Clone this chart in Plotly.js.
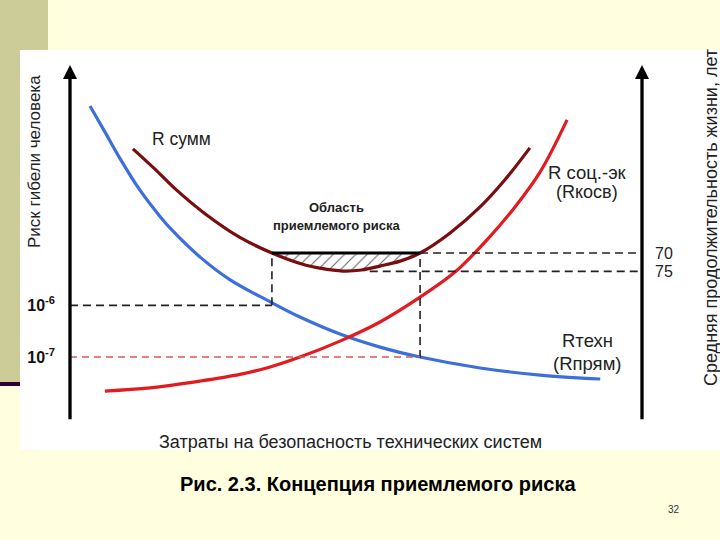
<!DOCTYPE html>
<html>
<head>
<meta charset="utf-8">
<script src="https://cdn.plot.ly/plotly-3.0.1.min.js"></script>
<style>html,body{margin:0;padding:0;background:#FFFFE0;}#chart{width:720px;height:540px;}</style>
</head>
<body>
<div id="chart"></div>
<script>
// ---- data (cost of safety: 0..100, risk / life scale: 0..100, conceptual units) ----
const costTech = [3.5, 6.1, 8.7, 12.2, 15.7, 17.8, 22.7, 28.0, 35.0, 40.2, 47.2, 54.2, 61.2, 71.7, 82.2, 92.7];
const riskTech = [88.4, 81.1, 73.7, 64.7, 57.3, 53.4, 45.8, 39.3, 33.1, 28.8, 24.0, 20.3, 17.5, 14.4, 12.4, 11.3];

const costSoc = [6.1, 14.0, 22.7, 29.7, 35.0, 40.2, 47.2, 54.2, 61.0, 67.3, 72.9, 77.8, 82.2, 86.9];
const riskSoc = [7.9, 8.8, 10.7, 12.6, 14.7, 17.5, 22.0, 27.4, 34.2, 41.5, 50.6, 59.9, 69.8, 84.5];

const costSum = [11.0, 14.9, 18.4, 23.6, 29.7, 35.3, 41.1, 43.7, 47.7, 51.0, 54.2, 57.7, 61.2, 66.4, 71.7, 76.0, 80.4];
const riskSum = [76.3, 70.5, 65.0, 58.0, 51.3, 46.9, 43.5, 42.6, 41.8, 42.1, 43.2, 44.6, 46.9, 52.5, 59.9, 67.5, 76.6];

const acceptCost = [35.3, 61.2];          // bounds of the acceptable-risk region
const riskTicks = [32.1, 17.5];           // 10^-6, 10^-7
const riskTickText = ['<b>10<sup>-6</sup></b>', '<b>10<sup>-7</sup></b>'];
const lifeTicks = [46.9, 41.7];           // 70, 75 years
const lifeTickText = ['70', '75'];
const life75Start = 52.4;

// ---- helpers for decoration placement (pixels -> paper) ----
const L = 70, R = 642, T = 65, B = 419;
const PX = p => (p - L) / (R - L);
const PY = p => (B - p) / (B - T);
const FONT = 'Liberation Sans, Arial, sans-serif';

// hatch polygon: flat top + R сумм curve beneath it
const hx = [acceptCost[0], acceptCost[1]];
const hy = [lifeTicks[0], lifeTicks[0]];
for (let i = costSum.length - 1; i >= 0; i--) {
  if (costSum[i] >= acceptCost[0] && costSum[i] <= acceptCost[1]) { hx.push(costSum[i]); hy.push(riskSum[i]); }
}

const dashBlack = {color: '#222', width: 1.6, dash: '8px,5px'};

const traces = [
  {x: hx, y: hy, mode: 'lines', fill: 'toself', line: {width: 0, color: 'rgba(0,0,0,0)'},
   fillcolor: 'rgba(255,255,255,0)',
   fillpattern: {shape: '/', fgcolor: '#666', bgcolor: 'rgba(255,255,255,0)', size: 8, solidity: 0.14},
   hoverinfo: 'skip'},
  {x: [acceptCost[1], 100], y: [lifeTicks[0], lifeTicks[0]], yaxis: 'y2', mode: 'lines', line: dashBlack, hoverinfo: 'skip'},
  {x: [life75Start, 100], y: [lifeTicks[1], lifeTicks[1]], yaxis: 'y2', mode: 'lines', line: dashBlack, hoverinfo: 'skip'},
  {x: costTech, y: riskTech, mode: 'lines', line: {color: '#3D6FDB', width: 3.2, shape: 'spline', smoothing: 1}},
  {x: costSoc, y: riskSoc, mode: 'lines', line: {color: '#E11B1F', width: 3.2, shape: 'spline', smoothing: 1}},
  {x: costSum, y: riskSum, mode: 'lines', line: {color: '#7A0D10', width: 3.2, shape: 'spline', smoothing: 1}},
  {x: acceptCost, y: [lifeTicks[0], lifeTicks[0]], mode: 'lines', line: {color: '#000', width: 3}}
];

const shapes = [
  {type: 'rect', xref: 'paper', yref: 'paper', x0: PX(0), x1: PX(48), y0: PY(0), y1: PY(382), fillcolor: '#CCCC99', line: {width: 0}, layer: 'below'},
  {type: 'rect', xref: 'paper', yref: 'paper', x0: PX(0), x1: PX(20), y0: PY(382), y1: PY(386), fillcolor: '#330033', line: {width: 0}, layer: 'below'},
  {type: 'rect', xref: 'paper', yref: 'paper', x0: PX(20), x1: PX(720), y0: PY(50), y1: PY(450), fillcolor: '#FFFFFF', line: {width: 0}, layer: 'below'},
  {type: 'line', xref: 'x', yref: 'y', x0: 0, x1: acceptCost[0], y0: riskTicks[0], y1: riskTicks[0], line: dashBlack},
  {type: 'line', xref: 'x', yref: 'y', x0: acceptCost[0], x1: acceptCost[0], y0: riskTicks[0], y1: lifeTicks[0], line: dashBlack},
  {type: 'line', xref: 'x', yref: 'y', x0: acceptCost[1], x1: acceptCost[1], y0: riskTicks[1] - 0.3, y1: lifeTicks[0], line: dashBlack},
  {type: 'line', xref: 'x', yref: 'y', x0: 0, x1: acceptCost[1], y0: riskTicks[1], y1: riskTicks[1], line: {color: '#D65A5A', width: 1.4, dash: '7px,5px'}}
];

const ann = (text, x, y, size, extra) => Object.assign({text: text, xref: 'paper', yref: 'paper', x: PX(x), y: PY(y),
  showarrow: false, xanchor: 'center', yanchor: 'middle', font: {family: FONT, size: size, color: '#222'}}, extra || {});

const axisArrow = (x, y, ax, ay) => ({xref: 'x', yref: 'y', axref: 'x', ayref: 'y', x: x, y: y, ax: ax, ay: ay,
  text: '', showarrow: true, arrowhead: 2, arrowsize: 0.85, arrowwidth: 3.3, arrowcolor: '#000', standoff: 0, startstandoff: 0});

const annotations = [
  axisArrow(0, 100, 0, -0.5),
  axisArrow(105.6, 0, -0.3, 0),
  axisArrow(100, 100, 100, -0.5),
  ann('Риск гибели человека', 34, 162, 17, {textangle: -90}),
  ann('Средняя продолжительность жизни, лет', 711, 218, 18, {textangle: -90}),
  ann('Затраты на безопасность технических систем', 350, 442, 18),
  ann('R сумм', 181, 139, 17.5),
  ann('R соц.-эк', 587, 172, 18.5),
  ann('(Rкосв)', 587, 192, 18),
  ann('Rтехн', 587, 340, 18.5),
  ann('(Rпрям)', 587, 363, 18.5),
  ann('<b>Область</b>', 336, 207, 13),
  ann('<b>приемлемого риска</b>', 336, 225, 13),
  ann('<b>Рис. 2.3. Концепция приемлемого риска</b>', 378, 484, 20, {font: {family: FONT, size: 20, color: '#000'}}),
  ann('32', 674, 510, 10, {font: {family: FONT, size: 10, color: '#333'}})
];

const layout = {
  width: 720, height: 540,
  margin: {l: L, r: 720 - R, t: T, b: 540 - B, pad: 0},
  paper_bgcolor: '#FFFFE0', plot_bgcolor: 'rgba(0,0,0,0)',
  showlegend: false,
  xaxis: {range: [0, 100], showgrid: false, zeroline: false, showline: false, showticklabels: false, ticks: '', fixedrange: true},
  yaxis: {range: [0, 100], showgrid: false, zeroline: false, showline: false, ticks: '',
    tickvals: riskTicks, ticktext: riskTickText, ticklabelstandoff: 14,
    tickfont: {family: FONT, size: 16, color: '#111'}, fixedrange: true},
  yaxis2: {range: [0, 100], overlaying: 'y', side: 'right', showgrid: false, zeroline: false, showline: false, ticks: '',
    tickvals: lifeTicks, ticktext: lifeTickText, ticklabelstandoff: 12,
    tickfont: {family: FONT, size: 16, color: '#222'}, fixedrange: true},
  shapes: shapes,
  annotations: annotations
};

Plotly.newPlot('chart', traces, layout, {displayModeBar: false, staticPlot: true});
</script>
</body>
</html>
